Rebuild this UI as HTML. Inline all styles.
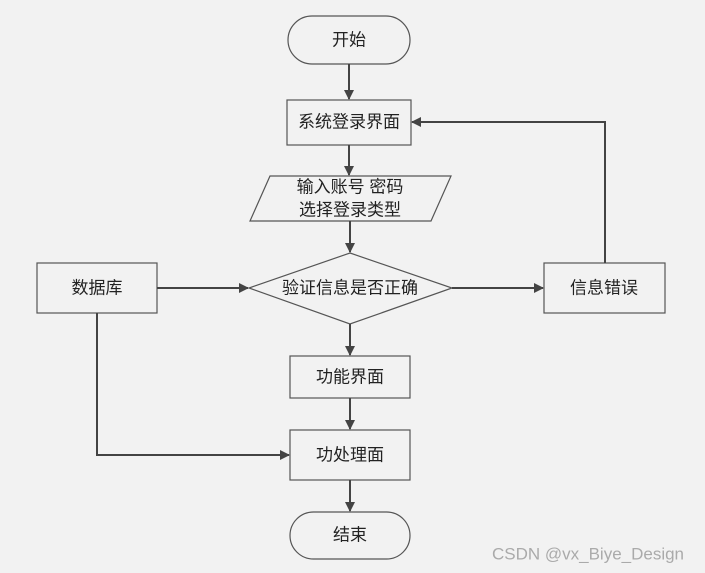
<!DOCTYPE html>
<html><head><meta charset="utf-8"><style>
html,body{margin:0;padding:0;background:#f2f2f2;}
svg{display:block}
text{font-family:"Liberation Sans","Noto Sans CJK SC",sans-serif;font-size:17px;fill:#222;text-anchor:middle;dominant-baseline:central}
</style></head><body>
<svg width="705" height="573" viewBox="0 0 705 573">
<defs><marker id="a" markerWidth="10" markerHeight="10" refX="9" refY="5" orient="auto" markerUnits="userSpaceOnUse"><path d="M0,0 L10,5 L0,10 Z" fill="#444"/></marker></defs>
<rect width="705" height="573" fill="#f2f2f2"/>
<g fill="#f2f2f2" stroke="#555" stroke-width="1.2">
<rect x="288" y="16" width="122" height="48" rx="24"/>
<rect x="287" y="100" width="124" height="45"/>
<polygon points="270,176 451,176 431,221 250,221"/>
<polygon points="350,253 452,288 350,324 249,288"/>
<rect x="37" y="263" width="120" height="50"/>
<rect x="544" y="263" width="121" height="50"/>
<rect x="290" y="356" width="120" height="42"/>
<rect x="290" y="430" width="120" height="50"/>
<rect x="290" y="512" width="120" height="47" rx="23.5"/>
</g>
<g stroke="#444" stroke-width="2" fill="none" marker-end="url(#a)">
<line x1="349" y1="64" x2="349" y2="99"/>
<line x1="349" y1="145" x2="349" y2="175"/>
<line x1="350" y1="221" x2="350" y2="252"/>
<line x1="157" y1="288" x2="248" y2="288"/>
<line x1="452" y1="288" x2="543" y2="288"/>
<line x1="350" y1="324" x2="350" y2="355"/>
<line x1="350" y1="398" x2="350" y2="429"/>
<line x1="350" y1="480" x2="350" y2="511"/>
<polyline points="97,313 97,455 289,455"/>
<polyline points="605,263 605,122 412,122"/>
</g>
<text x="349" y="40">开始</text>
<text x="349" y="122">系统登录界面</text>
<text x="350" y="187">输入账号 密码</text>
<text x="350" y="210">选择登录类型</text>
<text x="350" y="288">验证信息是否正确</text>
<text x="97" y="288">数据库</text>
<text x="604" y="288">信息错误</text>
<text x="350" y="377">功能界面</text>
<text x="350" y="455">功处理面</text>
<text x="350" y="535">结束</text>
<text x="588" y="554" style="fill:#aaa;font-size:17px">CSDN @vx_Biye_Design</text>
</svg>
</body></html>
